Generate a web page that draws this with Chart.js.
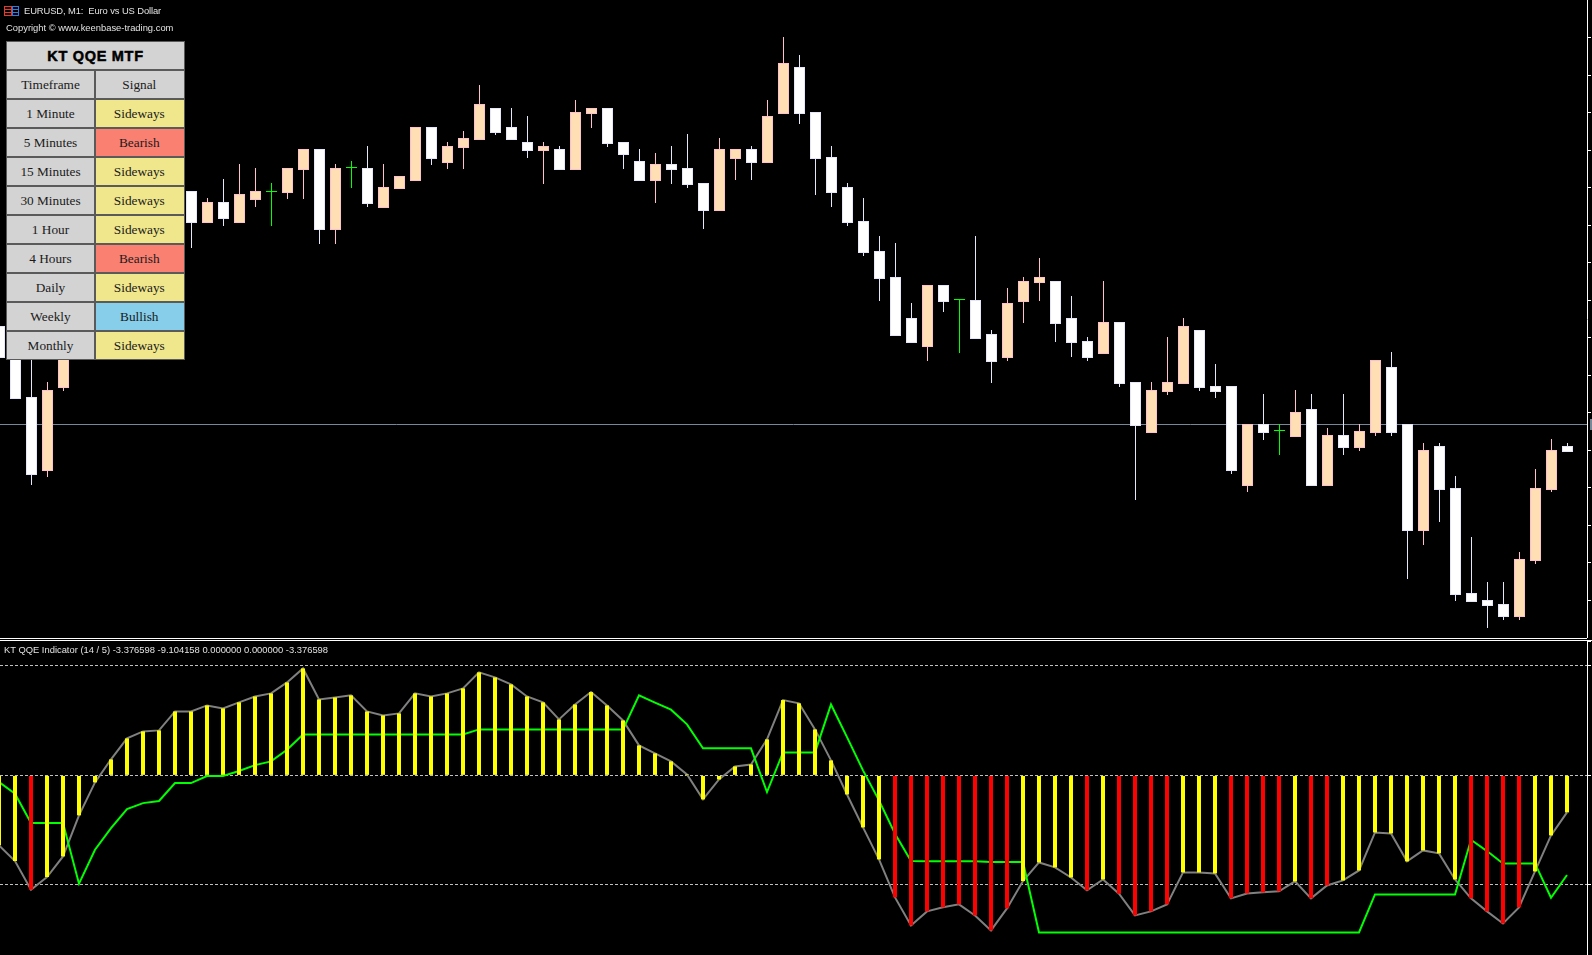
<!DOCTYPE html>
<html>
<head>
<meta charset="utf-8">
<title>KT QQE MTF</title>
<script src="https://cdn.jsdelivr.net/npm/chart.js@4/dist/chart.umd.min.js"></script>
<style>
    html, body { margin: 0; padding: 0; background: #000; overflow: hidden; }
    body { position: relative; width: 1592px; height: 955px; }
    canvas { position: absolute; left: 0; display: block; }
    #priceChart { top: 0; }
    #qqeChart { top: 641px; }
    .rule { position: absolute; left: 0; height: 1px; background: #fff; }
    .priceTag { position: absolute; left: 1590px; top: 419px; width: 2px; height: 11px; background: #778899; }
    .label { position: absolute; font-family: "Liberation Sans", sans-serif; font-size: 9.4px; line-height: 12px; color: #e2e2e2; white-space: pre; }
    #logo { position: absolute; left: 4px; top: 6px; }
    #signalTable {
        position: absolute; left: 6px; top: 41px; width: 177px; padding: 1px; background: #5a5a5a;
        display: grid; grid-template-columns: 87px 88px; grid-auto-rows: 27px; gap: 2px;
        font-family: "Liberation Serif", serif; font-size: 13.3px; color: #1a1a1a;
    }
    #signalTable div { display: flex; align-items: center; justify-content: center; background: #d3d3d3; }
    #signalTable .signal { padding-right: 1.4px; }
    #signalTable .title {
        grid-column: 1 / 3; color: #000; font-family: "Liberation Sans", sans-serif;
        font-weight: bold; font-size: 14.5px; letter-spacing: 0.7px; -webkit-text-stroke: 0.5px #000;
    }
</style>
</head>
<body>
<canvas id="priceChart" width="1592" height="638"></canvas>
<canvas id="qqeChart" width="1592" height="314"></canvas>
<div class="rule" style="top:638px;width:1587px"></div>
<div class="rule" style="top:640px;width:1592px"></div>
<div class="priceTag"></div>

<svg id="logo" width="15" height="10" viewBox="0 0 15 10">
    <rect x="0.5" y="0.5" width="7" height="9" fill="none" stroke="#e8392b"/>
    <rect x="8.5" y="0.5" width="6" height="9" fill="none" stroke="#2f7de1"/>
    <path d="M1 3.5h6M1 6.5h6" stroke="#e8392b"/>
    <path d="M9 3.5h5M9 6.5h5" stroke="#2f7de1"/>
</svg>
<div class="label" style="left:24px;top:5px;letter-spacing:-0.1px">EURUSD, M1:  Euro vs US Dollar</div>
<div class="label" style="left:6px;top:22px">Copyright © www.keenbase-trading.com</div>
<div class="label" style="left:4px;top:644px">KT QQE Indicator (14 / 5) -3.376598 -9.104158 0.000000 0.000000 -3.376598</div>
<div id="signalTable"></div>

<script>
// Prices carry no labels in the picture, so they are kept in chart points above the pane floor
const opens = [312, 298, 241, 167, 250, null, null, null, null, null, null, null,
    447, 415, 436, 415, 438, 446, 445, 468, 489, 408,
    470, 470, 430, 449, 457, 511, 475, 490, 498, 530,
    511, 496, 487, 489, 468, 524, 530, 496, 477, 457,
    474, 470, 455, 427, 479, 489, 475, 524, 571, 526,
    481, 451, 417, 387, 361, 320, 291, 353, 338, 338,
    304, 280, 336, 355, 357, 320, 297, 284, 316, 256,
    205, 246, 254, 308, 252, 252, 152, 214, 207, 201,
    229, 152, 203, 190, 205, 271, 214, 107, 192, 150,
    45, 38, 34, 21, 77, 148, 192];
const closes = [280, 239, 163, 248, 293, null, null, null, null, null, null, null,
    415, 436, 419, 444, 447, 446, 470, 489, 408, 470,
    470, 434, 451, 462, 511, 479, 492, 500, 534, 505,
    498, 487, 492, 468, 526, 530, 494, 483, 457, 474,
    468, 453, 427, 489, 489, 475, 522, 575, 524, 479,
    445, 415, 385, 359, 302, 295, 353, 336, 338, 299,
    276, 335, 357, 361, 314, 295, 280, 316, 254, 212,
    248, 256, 312, 250, 246, 167, 214, 205, 207, 226,
    152, 203, 190, 207, 278, 205, 107, 188, 148, 43,
    36, 32, 21, 79, 150, 188, 186];
const highs = [312, 298, 288, 256, 293, null, null, null, null, null, null, null,
    447, 440, 459, 474, 470, 455, 470, 489, 489, 474,
    477, 492, 474, 462, 511, 511, 496, 507, 553, 530,
    530, 522, 496, 492, 538, 530, 530, 496, 489, 485,
    492, 504, 455, 500, 489, 492, 538, 601, 583, 526,
    492, 455, 440, 402, 395, 335, 353, 353, 338, 402,
    308, 350, 361, 380, 357, 342, 301, 357, 316, 256,
    256, 301, 320, 308, 274, 252, 214, 244, 214, 248,
    244, 210, 244, 214, 278, 286, 214, 195, 195, 162,
    101, 56, 56, 86, 169, 199, 195];
const lows = [280, 239, 153, 161, 247, null, null, null, null, null, null, null,
    390, 415, 412, 415, 431, 412, 439, 439, 394, 394,
    450, 431, 430, 449, 457, 473, 469, 469, 498, 503,
    498, 480, 454, 468, 468, 510, 491, 469, 457, 435,
    454, 450, 409, 427, 458, 458, 475, 524, 514, 443,
    431, 412, 382, 337, 302, 295, 277, 326, 285, 299,
    255, 277, 315, 337, 296, 281, 277, 284, 251, 138,
    205, 243, 254, 247, 240, 164, 146, 198, 183, 201,
    152, 152, 183, 187, 202, 202, 59, 93, 116, 37,
    36, 10, 18, 18, 74, 146, 186];
const bidPrice = 213.5;
const priceTicks = [600.5, 563, 525.5, 488, 450.5, 413, 375.5, 338, 300.5, 263, 225.5, 188, 150.5, 113, 75.5, 38];

const qqeValues = [-6.39, -7.82, -10.44, -9.28, -7.40, -3.65, -0.64, 1.46, 3.38, 4.02,
    4.11, 5.84, 5.84, 6.39, 6.12, 6.67, 7.21, 7.49, 8.49, 9.77,
    6.94, 7.12, 7.31, 5.84, 5.48, 5.66, 7.49, 7.21, 7.49, 7.95,
    9.41, 8.95, 8.31, 7.21, 6.67, 5.11, 6.48, 7.61, 6.39, 5.02,
    2.74, 2.01, 1.28, 0.09, -2.19, -0.37, 0.82, 1.00, 3.29, 6.88,
    6.58, 4.20, 1.37, -1.74, -4.75, -7.67, -11.14, -13.70, -12.42, -12.05,
    -11.78, -12.79, -14.16, -12.15, -9.65, -7.95, -8.40, -9.32, -10.50, -9.50,
    -10.81, -12.79, -12.42, -11.78, -8.86, -8.86, -8.95, -11.23, -10.78, -10.68,
    -10.59, -9.68, -11.23, -10.05, -9.59, -8.68, -5.21, -5.30, -7.85, -6.85,
    -7.12, -9.50, -11.23, -12.42, -13.52, -12.05, -8.77, -5.48, -3.38];
const signalValues = [-0.61, -1.67, -4.35, -4.35, -4.35, -9.89, -6.79, -4.81, -3.07, -2.53,
    -2.34, -0.70, -0.70, -0.06, -0.06, 0.40, 0.94, 1.28, 2.34, 3.74,
    3.74, 3.74, 3.74, 3.74, 3.74, 3.74, 3.74, 3.74, 3.74, 3.74,
    4.20, 4.20, 4.20, 4.20, 4.20, 4.20, 4.20, 4.20, 4.20, 4.20,
    7.31, 6.64, 6.00, 4.66, 2.47, 2.47, 2.47, 2.47, -1.52, 2.10,
    2.10, 2.10, 6.48, 3.50, 0.46, -2.28, -5.33, -7.82, -7.85, -7.85,
    -7.85, -7.85, -7.91, -7.91, -7.91, -14.34, -14.34, -14.34, -14.34, -14.34,
    -14.34, -14.34, -14.34, -14.34, -14.34, -14.34, -14.34, -14.34, -14.34, -14.34,
    -14.34, -14.34, -14.34, -14.34, -14.34, -14.34, -10.87, -10.87, -10.87, -10.87,
    -10.87, -10.87, -5.88, -6.91, -8.04, -8.04, -8.04, -11.17, -9.10];
// bars painted red in the histogram, all the others are yellow
const redBars = [2, 56, 57, 58, 59, 60, 61, 62, 63, 68, 70, 71, 72, 73, 77, 78, 79, 80, 82, 83, 92, 93, 94, 95];
const qqeLevels = [12.25, 10, 0, -10];

const timeframes = ['1 Minute', '5 Minutes', '15 Minutes', '30 Minutes', '1 Hour', '4 Hours', 'Daily', 'Weekly', 'Monthly'];
const signals = ['Sideways', 'Bearish', 'Sideways', 'Sideways', 'Sideways', 'Bearish', 'Sideways', 'Bullish', 'Sideways'];
const signalColors = { Sideways: '#f0e68c', Bearish: '#fa8072', Bullish: '#87ceeb' };

const BULL_FILL = '#ffdfb3';
const BULL_EDGE = '#ffc0cb';
const BEAR_FILL = '#ffffff';
const BEAR_EDGE = '#e6e6fa';
const DOJI = '#00ff00';

function edgeColor(i) {
    if (opens[i] === closes[i]) return DOJI;
    return closes[i] > opens[i] ? BULL_EDGE : BEAR_EDGE;
}

function fillColor(i) {
    if (opens[i] === closes[i]) return DOJI;
    return closes[i] > opens[i] ? BULL_FILL : BEAR_FILL;
}

// the signal table sits over the first candles
const tableEl = document.getElementById('signalTable');
function addCell(text, className, background) {
    const cell = document.createElement('div');
    cell.textContent = text;
    if (className) cell.className = className;
    if (background) cell.style.background = background;
    tableEl.appendChild(cell);
}
addCell('KT QQE MTF', 'title');
addCell('Timeframe');
addCell('Signal', 'signal');
timeframes.forEach((name, i) => {
    addCell(name);
    addCell(signals[i], 'signal', signalColors[signals[i]]);
});

// main pane: bar i has its centre at 16 * i - 0.5 px
const priceXMin = 0.03125;
const priceXMax = 99.21875;
const candleIdx = opens.map((v, i) => i);

new Chart(document.getElementById('priceChart').getContext('2d'), {
    type: 'bar',
    data: {
        datasets: [
            {
                type: 'line',
                data: [{ x: priceXMin, y: bidPrice }, { x: priceXMax, y: bidPrice }],
                borderColor: '#778899',
                borderWidth: 1,
                pointRadius: 0,
                order: 3
            },
            {
                data: candleIdx.map(i => ({ x: i, y: highs[i] === null ? null : [lows[i], highs[i]] })),
                backgroundColor: candleIdx.map(edgeColor),
                barThickness: 1,
                grouped: false,
                inflateAmount: 0,
                order: 2
            },
            {
                data: candleIdx.map(i => ({ x: i, y: opens[i] === null ? null : [opens[i], closes[i]] })),
                backgroundColor: candleIdx.map(fillColor),
                borderColor: candleIdx.map(edgeColor),
                borderWidth: 1,
                borderSkipped: false,
                barThickness: 11,
                minBarLength: 1,
                grouped: false,
                inflateAmount: 0,
                order: 1
            }
        ]
    },
    options: {
        responsive: false,
        animation: false,
        layout: { padding: 0 },
        plugins: { legend: { display: false }, tooltip: { enabled: false } },
        scales: {
            x: { type: 'linear', display: false, offset: false, min: priceXMin, max: priceXMax },
            y: {
                position: 'right',
                min: 0,
                max: 638,
                afterBuildTicks: scale => { scale.ticks = priceTicks.map(value => ({ value })); },
                afterFit: scale => { scale.width = 5; },
                ticks: { display: false },
                grid: { drawOnChartArea: false, color: '#fff', tickColor: '#fff', tickLength: 4 },
                border: { color: '#fff' }
            }
        }
    }
});

// lower pane: the same bars, half a pixel further left so the 4px columns stay sharp
const qqeXMin = 0.0625;
const qqeXMax = 99.25;

new Chart(document.getElementById('qqeChart').getContext('2d'), {
    type: 'bar',
    data: {
        datasets: [
            {
                type: 'line',
                data: qqeValues.map((v, i) => ({ x: i, y: v })),
                borderColor: '#808080',
                borderWidth: 2,
                pointRadius: 0,
                order: 3
            },
            {
                type: 'line',
                data: signalValues.map((v, i) => ({ x: i, y: v })),
                borderColor: '#00ff00',
                borderWidth: 2,
                pointRadius: 0,
                order: 2
            },
            {
                data: qqeValues.map((v, i) => ({ x: i, y: v })),
                backgroundColor: qqeValues.map((v, i) => (redBars.includes(i) ? '#ff0000' : '#ffff00')),
                barThickness: 4,
                grouped: false,
                inflateAmount: 0,
                order: 1
            }
        ]
    },
    options: {
        responsive: false,
        animation: false,
        layout: { padding: 0 },
        plugins: { legend: { display: false }, tooltip: { enabled: false } },
        scales: {
            x: { type: 'linear', display: false, offset: false, min: qqeXMin, max: qqeXMax },
            y: {
                position: 'right',
                min: -16.402,
                max: 12.274,
                afterBuildTicks: scale => { scale.ticks = qqeLevels.map(value => ({ value })); },
                afterFit: scale => { scale.width = 5; },
                ticks: { display: false },
                grid: {
                    color: ctx => (ctx.tick && ctx.tick.value > 11 ? 'transparent' : '#c0c0c0'),
                    tickColor: '#fff',
                    tickLength: 4,
                    tickBorderDash: []
                },
                border: { color: '#fff', dash: [3, 2] }
            }
        }
    }
});
</script>
</body>
</html>
